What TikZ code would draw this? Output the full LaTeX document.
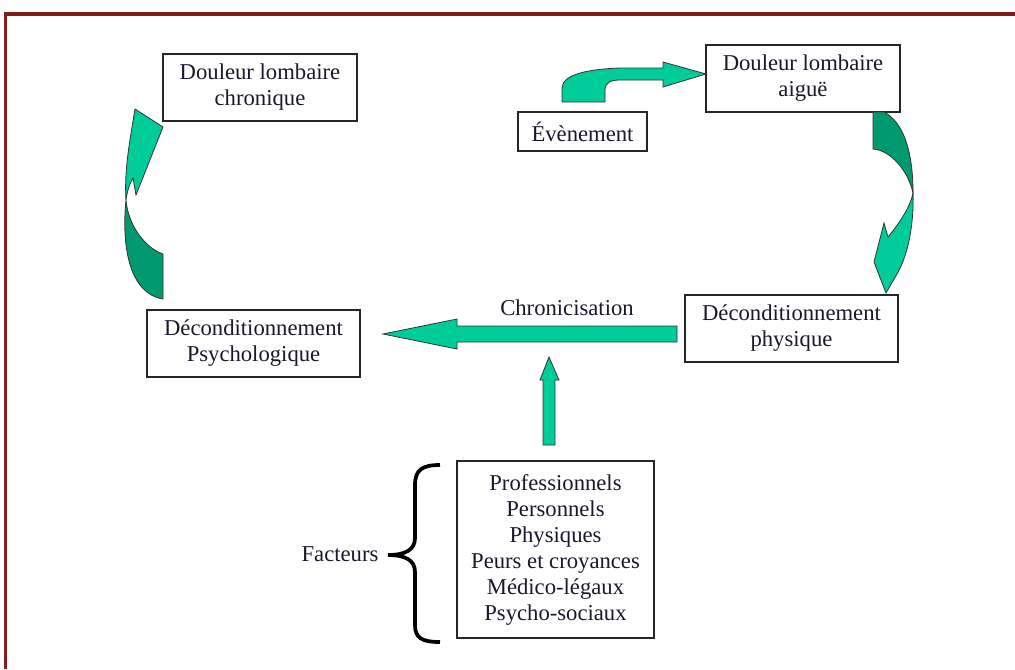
\documentclass[tikz,border=0pt]{standalone}
\usepackage{fontspec}
\setmainfont{Liberation Serif}
\definecolor{framered}{RGB}{128,30,30}
\definecolor{arrlight}{RGB}{0,204,153}
\definecolor{arrdark}{RGB}{0,153,112}
\definecolor{txt}{RGB}{25,25,45}
\begin{document}
\begin{tikzpicture}[x=0.75pt,y=-0.75pt,
  font=\fontsize{17}{19.5}\selectfont,
  box/.style={draw=black!85, line width=1.1pt, align=center, inner sep=0pt, text=txt},
  lbl/.style={align=center, inner sep=0pt, text=txt},
  lightg/.style={fill=arrlight, draw=black!80, line width=0.6pt, line join=miter},
  darkg/.style={fill=arrdark, draw=black!80, line width=0.6pt, line join=miter}]
\useasboundingbox (0,0) rectangle (1015,669);
\fill[white] (0,0) rectangle (1015,669);
\draw[framered, line width=2.4pt] (5.5,669) -- (5.5,14) -- (1015,14);

% boxes
\node[box, minimum width=145.5pt, minimum height=50.25pt] (chron) at (260,87.5) {Douleur lombaire\\chronique};
\node[box, minimum width=145.5pt, minimum height=50.25pt] (aigue) at (803,78.5) {Douleur lombaire\\aiguë};
\node[box, minimum width=96.75pt, minimum height=29.25pt] (event) at (582.5,131.5) {Évènement};
\node[box, minimum width=159.75pt, minimum height=50.25pt] (phys) at (791.5,328.5) {Déconditionnement\\physique};
\node[box, minimum width=159.75pt, minimum height=50.25pt] (psy) at (253.5,343.5) {Déconditionnement\\Psychologique};
\node[box, minimum width=147.75pt, minimum height=132.75pt] (fact) at (555.5,549.5) {Professionnels\\Personnels\\Physiques\\Peurs et croyances\\Médico-légaux\\Psycho-sociaux};
\node[lbl] (chr) at (567,308) {Chronicisation};
\node[lbl] (facteurs) at (340,554) {Facteurs};

% event -> aigue arrow
\filldraw[lightg] (562,102) -- (562,88) .. controls (562,74) and (590,69) .. (620,68) -- (663,68) -- (663,62) -- (706,74) -- (663,87) -- (663,80) -- (620,80) .. controls (610,80) and (605,83) .. (605,90) -- (605,102) -- cycle;

% aigue -> physique curved arrow
\filldraw[darkg] (873,112) -- (884,112) .. controls (903,122) and (913,150) .. (913,193) .. controls (908,170) and (890,150) .. (873,149) -- cycle;
\filldraw[lightg] (913,193) .. controls (914,225) and (908,255) .. (897,274) -- (886,293) -- (874,262) -- (884,223) -- (888,237) .. controls (898,225) and (910,208) .. (913,193) -- cycle;

% psycho -> chronique curved arrow
\filldraw[darkg] (163,299) -- (163,254) .. controls (145,248) and (128,225) .. (126,200) .. controls (121,250) and (131,294) .. (163,299) -- cycle;
\filldraw[lightg] (126,200) .. controls (124,170) and (130,140) .. (135,109) -- (163,127) -- (136,195) -- (133,178) .. controls (129,185) and (127,192) .. (126,200) -- cycle;

% chronicisation arrow
\filldraw[lightg] (677,326) -- (457,326) -- (457,319) -- (383,334) -- (457,349) -- (457,342) -- (677,342) -- cycle;

% vertical arrow
\filldraw[lightg] (543,445) -- (543,380) -- (540,380) -- (549,357) -- (559,380) -- (555,380) -- (555,445) -- cycle;

% brace
\draw[line width=2.8pt, black] (440,465) .. controls (422,465) and (415,470) .. (415,485) -- (415,538) .. controls (415,550) and (405,555) .. (388,555) .. controls (405,555) and (415,560) .. (415,572) -- (415,625) .. controls (415,638) and (422,642) .. (440,642);
\end{tikzpicture}
\end{document}
